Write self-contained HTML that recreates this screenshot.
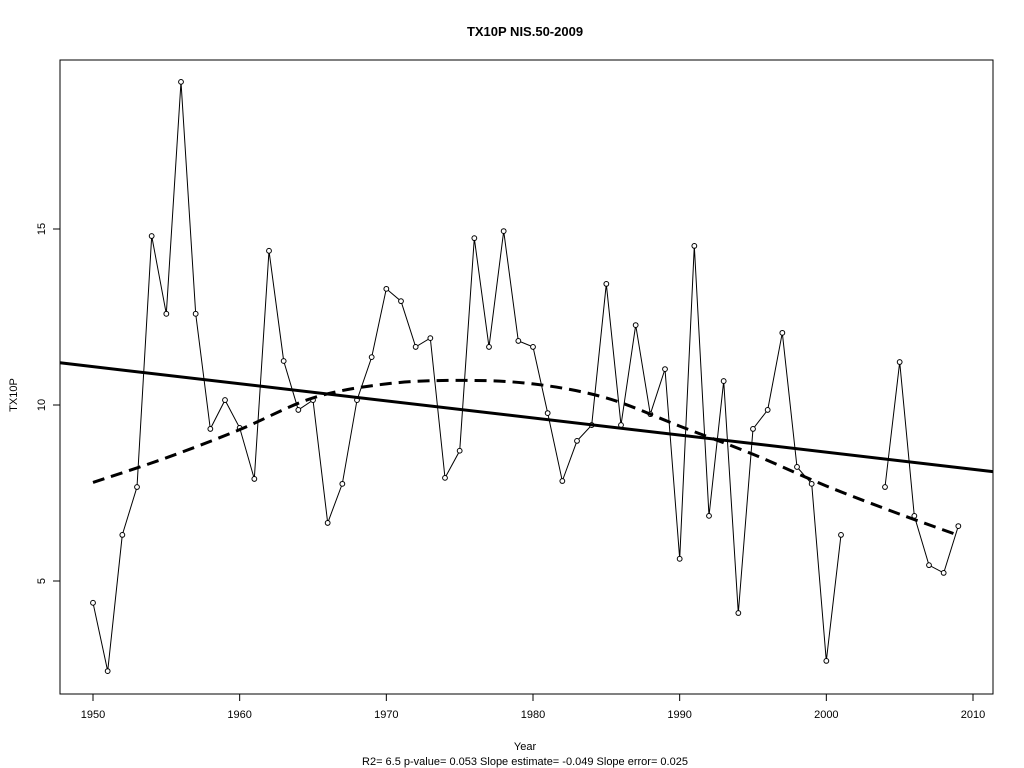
<!DOCTYPE html>
<html><head><meta charset="utf-8"><style>
html,body{margin:0;padding:0;background:#fff;}
svg{display:block;font-family:"Liberation Sans",Arial,sans-serif;}
</style></head><body>
<svg id="chart" width="1024" height="768" viewBox="0 0 1024 768">
<text x="525" y="36" text-anchor="middle" font-size="13" font-weight="bold">TX10P    NIS.50-2009</text>
<rect x="60" y="60" width="933" height="634" fill="none" stroke="#000" stroke-width="1"/>
<g id="xaxis"></g>
<g id="yaxis"></g>
<text x="525" y="750" text-anchor="middle" font-size="11">Year</text>
<text x="525" y="765" text-anchor="middle" font-size="11">R2= 6.5  p-value= 0.053  Slope estimate= -0.049  Slope error= 0.025</text>
<text transform="translate(17,395) rotate(-90)" text-anchor="middle" font-size="11">TX10P</text>
<g id="marks"></g>
</svg>
<script>
const years=[1950,1951,1952,1953,1954,1955,1956,1957,1958,1959,1960,1961,1962,1963,1964,1965,1966,1967,1968,1969,1970,1971,1972,1973,1974,1975,1976,1977,1978,1979,1980,1981,1982,1983,1984,1985,1986,1987,1988,1989,1990,1991,1992,1993,1994,1995,1996,1997,1998,1999,2000,2001,2002,2003,2004,2005,2006,2007,2008,2009];
const values=[4.38,2.44,6.31,7.67,14.8,12.59,19.18,12.59,9.32,10.14,9.35,7.9,14.38,11.25,9.86,10.14,6.65,7.76,10.14,11.36,13.3,12.95,11.65,11.9,7.93,8.7,14.74,11.65,14.94,11.82,11.65,9.77,7.84,8.98,9.43,13.44,9.43,12.27,9.74,11.02,5.63,14.52,6.85,10.68,4.09,9.32,9.86,12.05,8.24,7.76,2.73,6.31,null,null,7.67,11.22,6.85,5.45,5.23,6.56];
const smoothYears=[1950,1955,1960,1965,1970,1975,1980,1985,1990,1995,2000,2005,2009];
const smoothValues=[7.8,8.5,9.3,10.2,10.6,10.7,10.6,10.2,9.4,8.6,7.7,6.9,6.3];
const trendSlope=-0.0486;
const trendAt1950=11.09;
const xTicks=[1950,1960,1970,1980,1990,2000,2010];
const yTicks=[5,10,15];
const NS="http://www.w3.org/2000/svg";
const X=v=>93+(v-1950)*(880/60);
const Y=v=>405-(v-10)*35.2;
function mk(tag,attrs,parent){const e=document.createElementNS(NS,tag);for(const k in attrs)e.setAttribute(k,attrs[k]);parent.appendChild(e);return e;}
const xa=document.getElementById('xaxis'),ya=document.getElementById('yaxis'),m=document.getElementById('marks');
xTicks.forEach(t=>{const l=mk('line',{x1:X(t),x2:X(t),y1:694,y2:701,stroke:'#000'},xa);


const tx=mk('text',{x:X(t),y:718,'text-anchor':'middle','font-size':11},xa);tx.textContent=t;

});
yTicks.forEach(t=>{const l=mk('line',{x1:53,x2:60,y1:Y(t),y2:Y(t),stroke:'#000'},ya);


const tx=mk('text',{x:0,y:0,'text-anchor':'middle','font-size':11,transform:`translate(45,${Y(t)}) rotate(-90)`},ya);tx.textContent=t;

});
// data line segments (break at missing)
let segs=[],cur=[];
years.forEach((y,i)=>{if(values[i]==null){if(cur.length)segs.push(cur);cur=[];}else cur.push(X(y).toFixed(1)+','+Y(values[i]).toFixed(1));});
if(cur.length)segs.push(cur);
segs.forEach(s=>{const p=mk('polyline',{points:s.join(' '),fill:'none',stroke:'#000','stroke-width':1},m);

});
years.forEach((y,i)=>{if(values[i]==null)return;const c=mk('circle',{cx:X(y),cy:Y(values[i]),r:2.4,fill:'#fff',stroke:'#000','stroke-width':1},m);

});
// trend line
const x0=1947.75,x1=2011.35;
const tl=mk('line',{x1:X(x0),y1:Y(trendAt1950+trendSlope*(x0-1950)),x2:X(x1),y2:Y(trendAt1950+trendSlope*(x1-1950)),stroke:'#000','stroke-width':3},m);


// smooth dashed
let d='M'+X(smoothYears[0])+','+Y(smoothValues[0]);
for(let i=1;i<smoothYears.length;i++){const p0=i>1?i-2:0,p1=i-1,p2=i,p3=i<smoothYears.length-1?i+1:i;
const px=k=>X(smoothYears[k]),py=k=>Y(smoothValues[k]);
d+=` C${px(p1)+(px(p2)-px(p0))/6},${py(p1)+(py(p2)-py(p0))/6} ${px(p2)-(px(p3)-px(p1))/6},${py(p2)-(py(p3)-py(p1))/6} ${px(p2)},${py(p2)}`;}
const sp=mk('path',{d:d,fill:'none',stroke:'#000','stroke-width':3,'stroke-dasharray':'12,7'},m);


</script>
</body></html>
